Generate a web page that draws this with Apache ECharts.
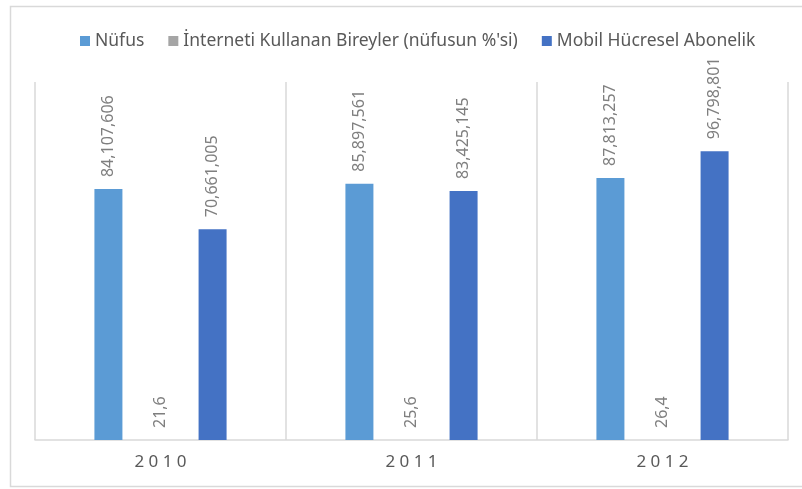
<!DOCTYPE html>
<html>
<head>
<meta charset="utf-8">
<script src="https://cdn.jsdelivr.net/npm/echarts@6/dist/echarts.min.js"></script>
<style>
  html, body { margin: 0; padding: 0; background: #fff; }
  #chart { width: 802px; height: 489px; }
</style>
</head>
<body>
<div id="chart"></div>
<script>
// yillar
var years = ['2010', '2011', '2012'];
var nufus = [84107606, 85897561, 87813257];
var internet = [21.6, 25.6, 26.4];
var mobil = [70661005, 83425145, 96798801];

var seriesNames = ['Nüfus', 'İnterneti Kullanan Bireyler (nüfusun %\'si)', 'Mobil Hücresel Abonelik'];
var colors = ['#5B9BD5', '#A5A5A5', '#4472C4'];

var font = 'Noto Sans';

function fmtBig(v) {
  return String(v).replace(/\B(?=(\d{3})+(?!\d))/g, ',');
}
function fmtPct(v) {
  return String(v).replace('.', ',');
}

function labelOpt(fmt) {
  return {
    show: true,
    position: 'top',
    rotate: 90,
    align: 'left',
    verticalAlign: 'middle',
    distance: 12,
    color: '#7f7f7f',
    fontFamily: font,
    fontSize: 16,
    formatter: function (p) { return fmt(p.value); }
  };
}

var chart = echarts.init(document.getElementById('chart'));

chart.setOption({
  backgroundColor: '#fff',
  animation: false,
  color: colors,
  graphic: [{
    type: 'rect',
    shape: { x: 10.5, y: 6.5, width: 800, height: 480 },
    style: { fill: 'none', stroke: '#d9d9d9', lineWidth: 1.5 },
    silent: true
  }],
  legend: {
    top: 27,
    left: 75,
    itemWidth: 10,
    itemHeight: 10,
    itemGap: 24,
    icon: 'rect',
    textStyle: { color: '#595959', fontFamily: font, fontSize: 17.5 },
    data: seriesNames
  },
  grid: { left: 35, right: 14, top: 82, bottom: 49 },
  xAxis: {
    type: 'category',
    data: years,
    axisLine: { lineStyle: { color: '#d9d9d9', width: 1.5 } },
    axisTick: { show: false },
    splitLine: { show: true, lineStyle: { color: '#d9d9d9', width: 1.5 } },
    axisLabel: {
      color: '#595959',
      fontFamily: font,
      fontSize: 17,
      margin: 14,
      formatter: function (v) { return v.split('').join(' '); }
    }
  },
  yAxis: {
    type: 'value',
    min: 0,
    max: 120000000,
    show: false,
    splitLine: { show: false }
  },
  series: [
    {
      name: seriesNames[0], type: 'bar', data: nufus,
      barWidth: 28, barGap: '86%', barCategoryGap: '47%',
      label: labelOpt(fmtBig)
    },
    {
      name: seriesNames[1], type: 'bar', data: internet,
      barWidth: 28,
      label: labelOpt(fmtPct)
    },
    {
      name: seriesNames[2], type: 'bar', data: mobil,
      barWidth: 28,
      label: labelOpt(fmtBig)
    }
  ]
});
</script>
</body>
</html>
